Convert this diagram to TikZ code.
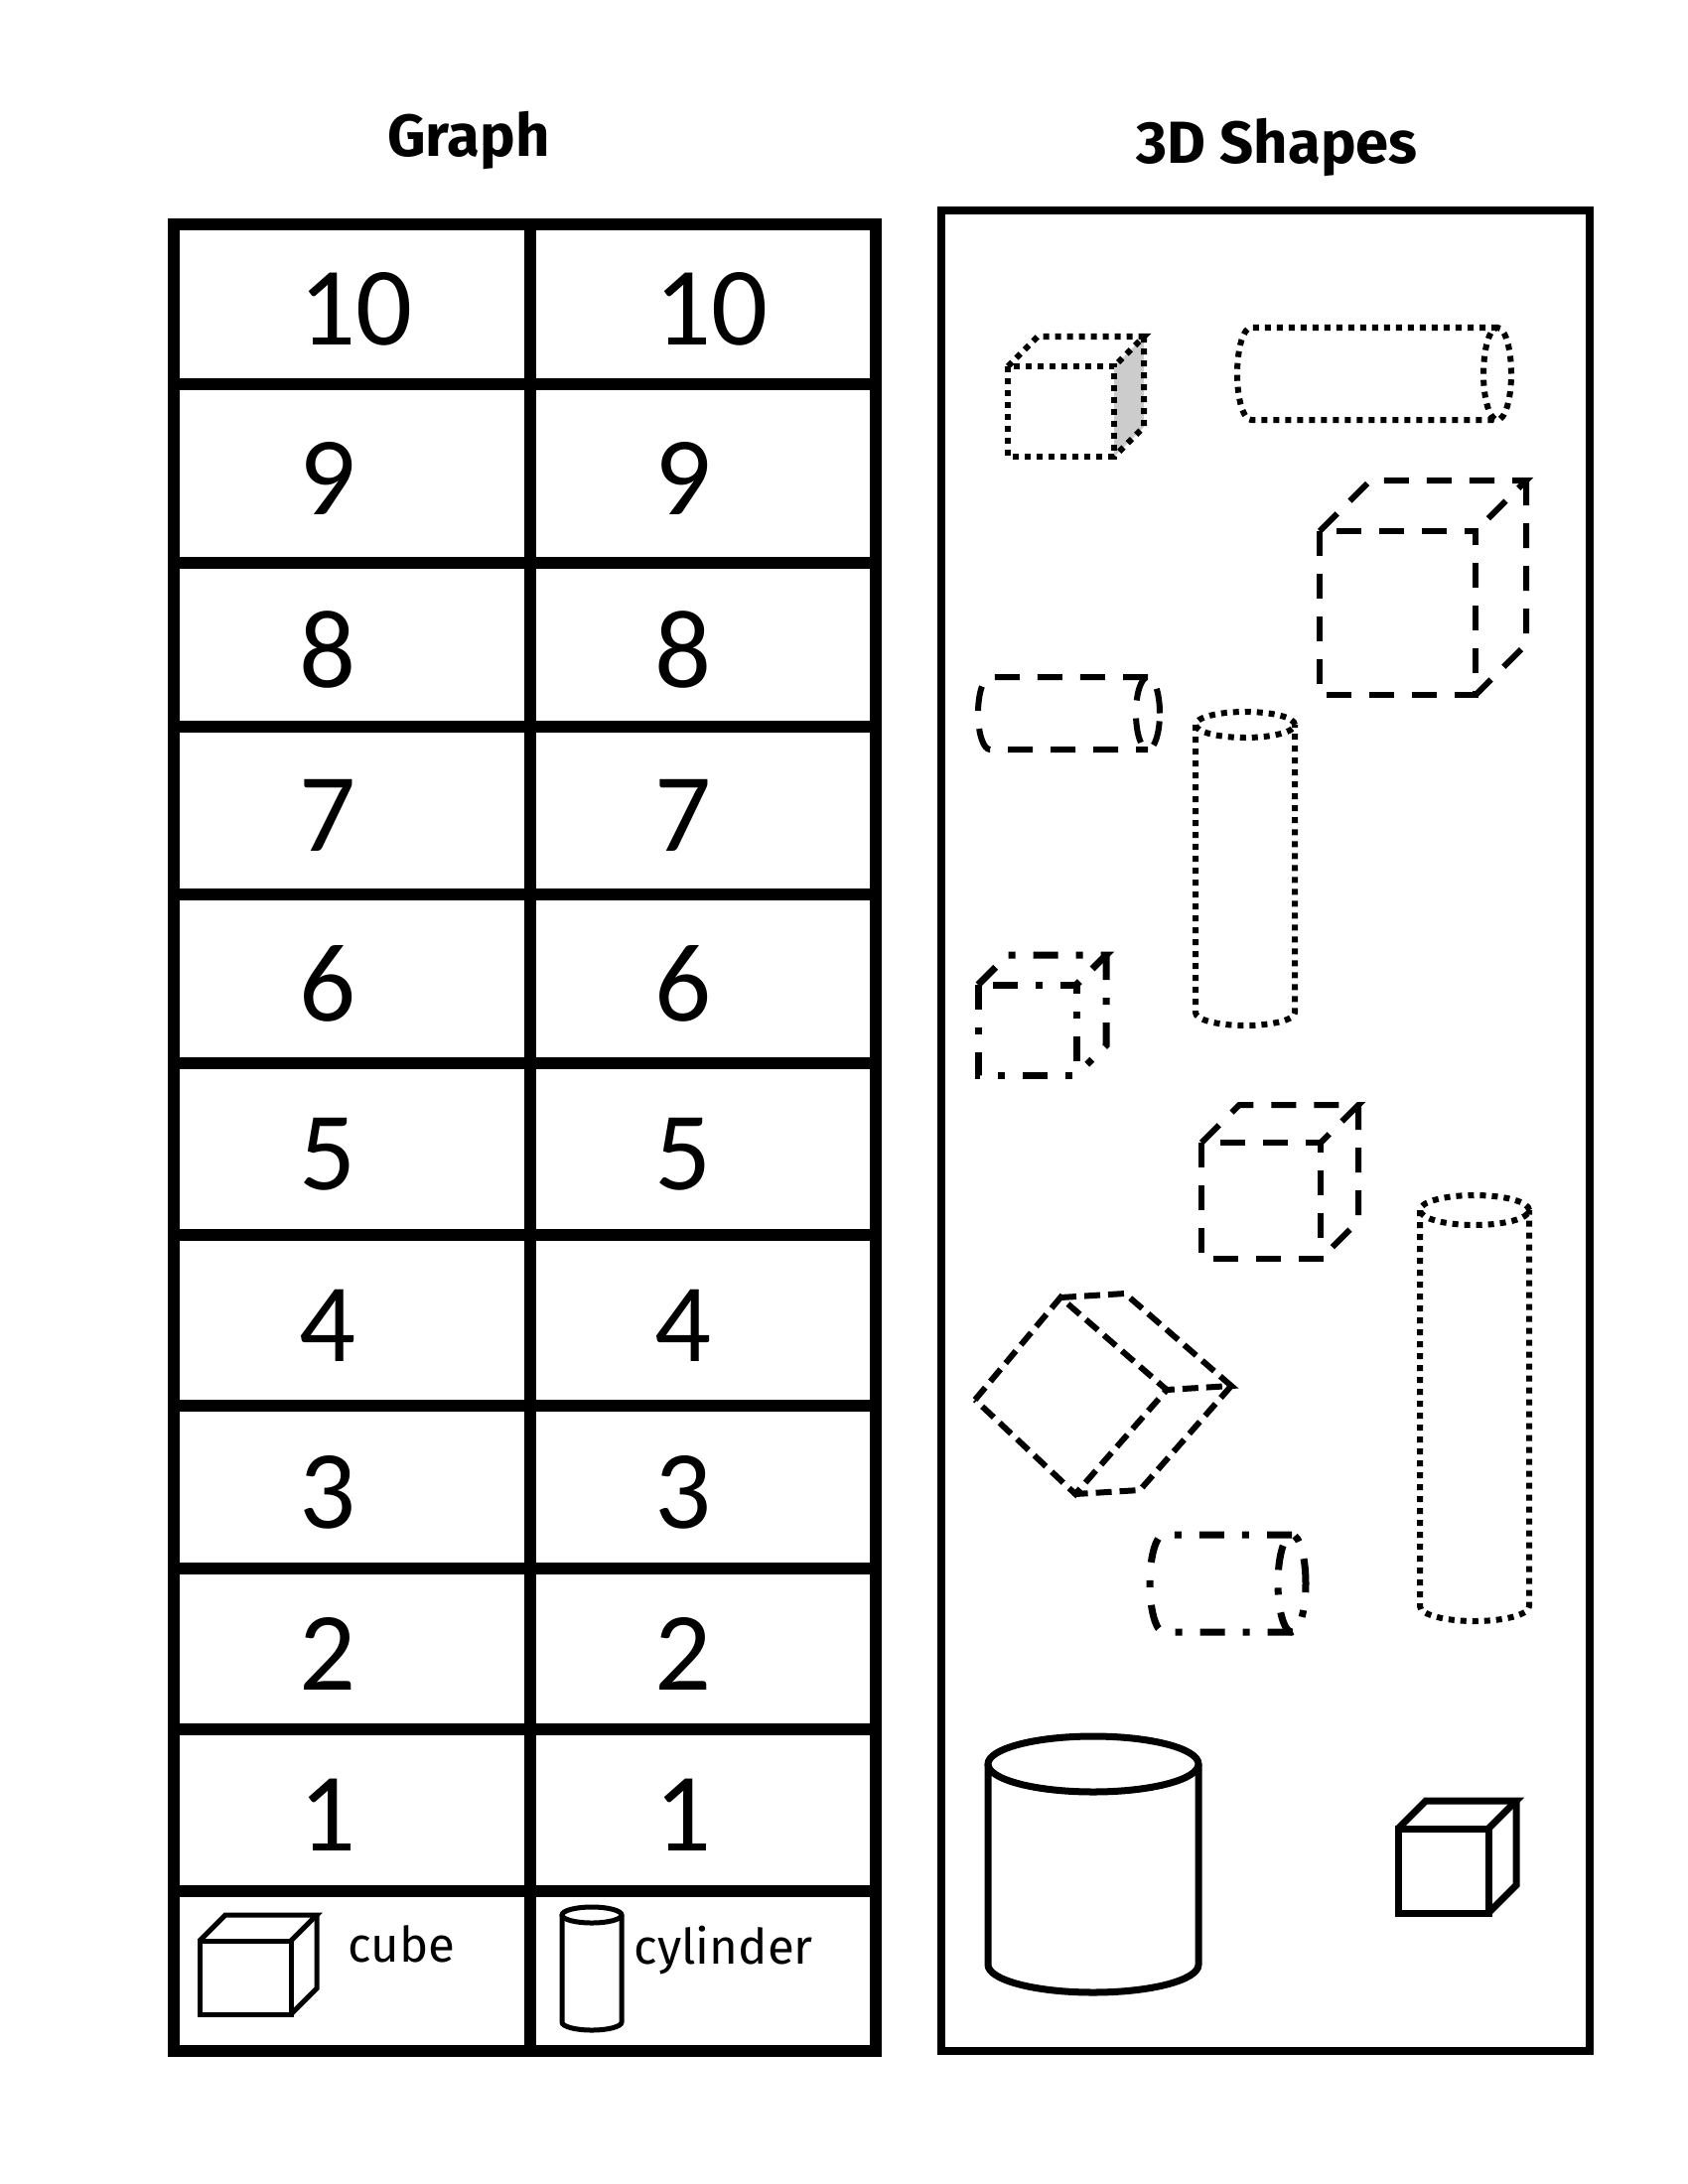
\documentclass[tikz,border=0pt]{standalone}
\usepackage{fontspec}
\usetikzlibrary{calc}
\setmainfont{Carlito}
\newfontfamily\headfont{Fira Sans}
\tikzset{grid line/.style={line width=0.12cm}}
\tikzset{frame line/.style={line width=0.08cm}}
\tikzset{dot edge/.style={line width=0.06cm,dash pattern=on 0.06cm off 0.06cm}}
\tikzset{dash edge/.style={line width=0.06cm,dash pattern=on 0.25cm off 0.18cm}}
\tikzset{short dash edge/.style={line width=0.06cm,dash pattern=on 0.16cm off 0.08cm}}
\tikzset{dashdot edge/.style={line width=0.07cm,dash pattern=on 0.25cm off 0.18cm on 0.07cm off 0.18cm}}
\tikzset{solid edge/.style={solid,line width=0.07cm}}
\tikzset{icon edge/.style={solid,line width=0.05cm}}
\tikzset{digit/.style={inner sep=0pt,anchor=west,font=\fontsize{32}{36}\selectfont}}
\tikzset{heading/.style={inner sep=0pt,anchor=base,font=\headfont\bfseries\fontsize{17}{20}\selectfont}}
\tikzset{legend/.style={inner sep=0pt,anchor=base west,font=\headfont\fontsize{14}{16}\selectfont}}

% style, x0, y0, x1, y1, depth
\newcommand{\drawcube}[6]{%
  \draw[#1] (#2,-#3) rectangle (#4,-#5);
  \draw[#1] (#2,-#3) -- ++(#6,#6) -- ++({#4-#2},0) -- (#4,-#3);
  \draw[#1] (#4+#6,-#3+#6) -- (#4+#6,-#5+#6) -- (#4,-#5);}
% style, cx, ytop, ybot, rx, ry
\newcommand{\drawvcyl}[6]{%
  \draw[#1] (#2,-#3) ellipse [x radius=#5*0.01cm,y radius=#6*0.01cm];
  \draw[#1] (#2-#5,-#3) -- (#2-#5,-#4)
    arc[start angle=180,end angle=360,x radius=#5*0.01cm,y radius=#6*0.01cm] -- (#2+#5,-#3);}
% style, xleft, ytop, ybot, xright, rx
\newcommand{\drawhcyl}[6]{%
  \draw[#1] (#5,{-(#3+#4)/2}) ellipse [x radius=#6*0.01cm,y radius={(#4-#3)/2*0.01cm}];
  \draw[#1] (#5,-#3) -- (#2+#6,-#3)
    arc[start angle=90,end angle=270,x radius=#6*0.01cm,y radius={(#4-#3)/2*0.01cm}] -- (#5,-#4);}

\begin{document}
\begin{tikzpicture}[x=0.01cm,y=0.01cm]

\useasboundingbox (0,0) rectangle (1700,-2200);

\node[heading] (graph title) at (472,-158) {Graph};
\node[heading] (shapes title) at (1286,-165) {3D Shapes};

\draw[grid line] (175,-226) rectangle (882,-2066);
\draw[grid line] (534,-226) -- (534,-2066);
\foreach \y in {387,567,732,901,1071,1244,1416,1580,1742,1905}
  \draw[grid line] (175,-\y) -- (882,-\y);

\foreach \n/\t/\b in {10/226/387,9/387/567,8/567/732,7/732/901,6/901/1071,
                      5/1071/1244,4/1244/1416,3/1416/1580,2/1580/1742,1/1742/1905} {
  \node[digit] (left \n) at (301,{-(\t+\b)/2-5}) {\n};
  \node[digit] (right \n) at (659,{-(\t+\b)/2-5}) {\n};
}

\drawcube{icon edge}{201}{1955}{293}{2029}{26}
\node[legend] (cube label) at (350,-1976) {cube};
\drawvcyl{icon edge}{596}{1929}{2037}{30}{8}
\node[legend] (cylinder label) at (638,-1978) {cylinder};

\draw[frame line] (948,-212) rectangle (1601,-2066);

\fill[black!20] (1122,-369) -- ++(30,30) -- ++(0,-91) -- (1122,-460) -- cycle;
\drawcube{dot edge}{1015}{369}{1122}{460}{30}
\drawhcyl{dot edge}{1246}{330}{423}{1508}{14}
\drawcube{dash edge}{1329}{535}{1486}{700}{51}
\drawhcyl{dash edge}{985}{682}{755}{1156}{12}
\drawvcyl{dot edge}{1254}{730}{1020}{50}{13}

\coordinate (f1) at (982,-1410);
\coordinate (f2) at (1068,-1307);
\coordinate (f3) at (1175,-1400);
\coordinate (f4) at (1083,-1505);
\draw[short dash edge] (f1) -- (f2) -- (f3) -- (f4) -- cycle;
\draw[short dash edge] (f2) -- ++(65,4) -- ($(f3)+(65,4)$) -- (f3);
\draw[short dash edge] ($(f3)+(65,4)$) -- ($(f4)+(65,4)$) -- (f4);

\drawcube{dashdot edge}{985}{992}{1084}{1083}{30}
\drawcube{dash edge}{1210}{1151}{1330}{1268}{38}
\drawhcyl{dashdot edge}{1158}{1546}{1644}{1301}{14}
\drawvcyl{dot edge}{1485}{1219}{1618}{55}{15}

\drawvcyl{solid edge}{1101}{1777}{1979}{106}{28}
\drawcube{solid edge}{1408}{1842}{1499}{1927}{28}

\end{tikzpicture}
\end{document}
